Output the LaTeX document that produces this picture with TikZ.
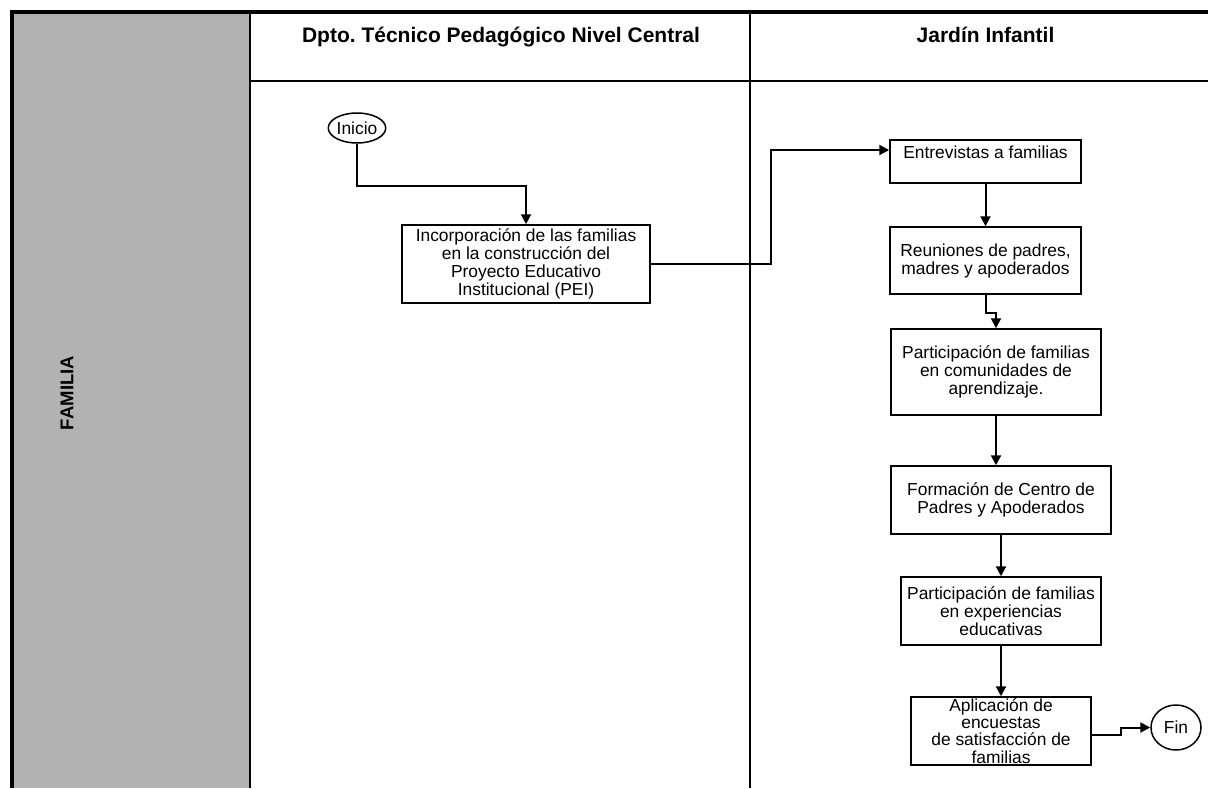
\documentclass[tikz,border=0pt]{standalone}
\usepackage{fontspec}
\setmainfont{Liberation Sans}
\usetikzlibrary{arrows.meta,shapes.geometric}
\frenchspacing
\begin{document}
\begin{tikzpicture}[x=1pt,y=1pt,
  box/.style={draw, line width=1.5pt, align=center, inner sep=0pt, font=\fontsize{17.4}{18}\selectfont},
  term/.style={draw, ellipse, line width=1.5pt, inner sep=0pt, font=\fontsize{17.4}{18}\selectfont},
  arr/.style={line width=2pt, -{Triangle[length=10pt,width=10pt]}},
  lane/.style={line width=2pt},
  frame/.style={line width=3.2pt},
  head/.style={font=\fontsize{21}{24}\selectfont\bfseries, anchor=base}]
\useasboundingbox (0,0) rectangle (1208,-788);
% lanes
\fill[black!30] (13,-13) rectangle (250,-788);
\draw[lane] (250,-12) -- (250,-788);
\draw[lane] (750,-12) -- (750,-788);
\draw[lane] (250,-80.5) -- (1208,-80.5);
\draw[frame] (1208,-12) -- (12,-12) -- (12,-788);
\node[head] (h1) at (501,-42) {Dpto.\ Técnico Pedagógico Nivel Central};
\node[head] (h2) at (985.5,-42) {Jardín Infantil};
\node[font=\fontsize{18.5}{22}\selectfont\bfseries, rotate=90] (fam) at (67,-393) {FAMILIA};
% nodes
\node[term, minimum width=51pt, minimum height=30pt] (inicio) at (357,-128) {Inicio};
\node[box, minimum width=248pt, minimum height=78pt] (pei) at (526,-264) {Incorporación de las familias\\en la construcción del\\Proyecto Educativo\\Institucional (PEI)};
\node[box, minimum width=191pt, text height=18pt, text depth=25pt] (entrev) at (985.5,-161.5) {Entrevistas a familias};
\node[box, minimum width=191pt, minimum height=67pt] (reun) at (985.5,-260.5) {Reuniones de padres,\\madres y apoderados};
\node[box, minimum width=210pt, minimum height=86pt] (comun) at (996,-372) {Participación de familias\\en comunidades de\\aprendizaje.};
\node[box, minimum width=220pt, minimum height=68pt] (form) at (1001,-500) {Formación de Centro de\\Padres y Apoderados};
\node[box, minimum width=200pt, minimum height=68pt] (exper) at (1001,-611) {Participación de familias\\en experiencias\\educativas};
\node[box, minimum width=180pt, minimum height=68pt, font=\fontsize{17.4}{17.3}\selectfont] (aplic) at (1001,-731) {Aplicación de\\encuestas\\de satisfacción de\\familias};
\node[term, minimum width=50pt, minimum height=45pt] (fin) at (1176,-727.5) {Fin};
% connectors
\coordinate (bend1) at (771,-150);
\draw[arr] (inicio.south) -- ++(0,-42) -| (pei.north);
\draw[arr] (pei.east) -| (bend1) -- (entrev.west |- bend1);
\draw[arr] (entrev.south) -- (reun.north);
\draw[arr] (reun.south) -- ++(0,-18) -| (comun.north);
\draw[arr] (comun.south) -- (comun.south |- form.north);
\draw[arr] (form.south) -- (exper.north);
\draw[arr] (exper.south) -- (aplic.north);
\draw[arr] ([yshift=-4pt]aplic.east) -- ++(29,0) |- (fin.west);
\end{tikzpicture}
\end{document}
